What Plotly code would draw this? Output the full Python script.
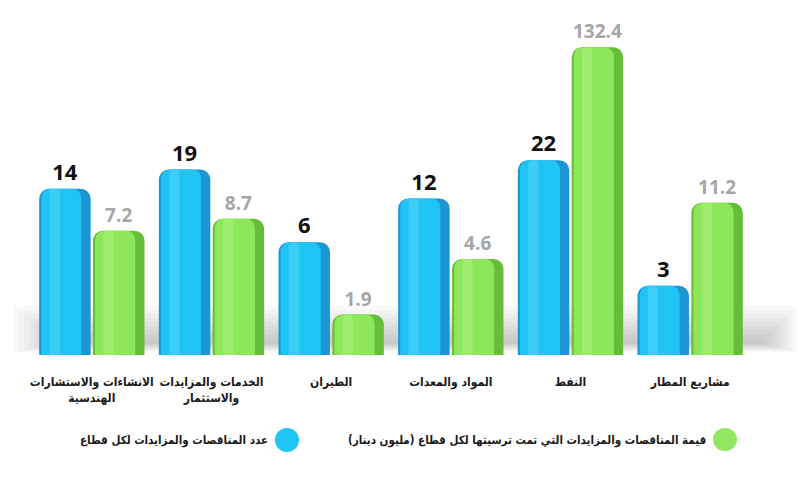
import plotly.graph_objects as go

categories = [
    "الانشاءات والاستشارات<br>الهندسية",
    "الخدمات والمزايدات<br>والاستثمار",
    "الطيران",
    "المواد والمعدات",
    "النفط",
    "مشاريع المطار",
]
count_values = [14, 19, 6, 12, 22, 3]
value_millions = [7.2, 8.7, 1.9, 4.6, 132.4, 11.2]
count_name = "عدد المناقصات والمزايدات لكل قطاع"
value_name = "قيمة المناقصات والمزايدات التي تمت ترسيتها لكل قطاع (مليون دينار)"

W, H = 800, 498
L, R, T, B = 32, 50, 20, 143
PW, PH = W - L - R, H - T - B


def px(x):
    return (x - L) / PW


def py(y):
    return (H - B - y) / PH


xs = list(range(len(categories)))
BW = 0.43
blue_off, green_off = -0.44, 0.01

fig = go.Figure()


def cylinder(vals, off, colors, text, tfont, name):
    base, mid, hi = colors
    fig.add_trace(go.Bar(
        x=xs, y=vals, offset=off, width=BW, name=name,
        marker=dict(color=base, line=dict(width=0), cornerradius=10),
        text=text, textposition="outside", textfont=tfont, cliponaxis=False,
        hoverinfo="y", showlegend=False))
    fig.add_trace(go.Bar(
        x=xs, y=vals, offset=off + 0.04 * BW, width=0.78 * BW,
        marker=dict(color=mid, line=dict(width=0), cornerradius=9),
        hoverinfo="skip", showlegend=False))
    fig.add_trace(go.Bar(
        x=xs, y=vals, offset=off + 0.2 * BW, width=0.2 * BW,
        marker=dict(color=hi, line=dict(width=0), cornerradius=4, opacity=0.6),
        hoverinfo="skip", showlegend=False))


cylinder(count_values, blue_off, ("#1a96d4", "#1fc4f4", "#4fd6fb"),
         [str(v) for v in count_values],
         dict(family="Open Sans", size=22, color="#111111", weight="bold"),
         count_name)
cylinder(value_millions, green_off, ("#66bd38", "#8ee75b", "#a8f27c"),
         [f"{v:g}" for v in value_millions],
         dict(family="Open Sans", size=19, color="#a6a6a6", weight="bold"),
         value_name)

shapes = []
# soft grey shadow behind the bars
for i in range(10):
    shapes.append(dict(type="rect", xref="paper", yref="paper", layer="below",
                       x0=px(14 + 5 * i), x1=px(797 - 4 * i),
                       y0=py(352 - i), y1=py(306 + 4 * i),
                       fillcolor="#000000", opacity=0.025, line=dict(width=0)))

# legend markers
shapes.append(dict(type="circle", xref="paper", yref="paper",
                   x0=px(713), x1=px(737), y0=py(451), y1=py(428),
                   fillcolor="#8fe85f", line=dict(width=0)))
shapes.append(dict(type="circle", xref="paper", yref="paper",
                   x0=px(275), x1=px(299), y0=py(452), y1=py(428),
                   fillcolor="#1fc6f5", line=dict(width=0)))

lfont = dict(family="DejaVu Sans Condensed, DejaVu Sans", size=11.5, color="#1a1a1a", weight="bold")
annotations = [
    dict(text=value_name, xref="paper", yref="paper", x=px(708), y=py(440),
         xanchor="right", yanchor="middle", showarrow=False, font=lfont),
    dict(text=count_name, xref="paper", yref="paper", x=px(270), y=py(440),
         xanchor="right", yanchor="middle", showarrow=False, font=lfont),
]

fig.update_layout(
    width=W, height=H,
    margin=dict(l=L, r=R, t=T, b=B),
    barmode="overlay",
    plot_bgcolor="white", paper_bgcolor="white",
    shapes=shapes, annotations=annotations,
    showlegend=False,
    xaxis=dict(range=[-0.5, 5.5], tickmode="array", tickvals=xs, ticktext=categories,
               tickangle=0,
               showgrid=False, zeroline=False, showline=False, ticks="",
               ticklabelstandoff=18,
               tickfont=dict(family="DejaVu Sans Condensed, DejaVu Sans", size=12,
                             color="#1a1a1a", weight="bold")),
    yaxis=dict(type="log", range=[0, 2.31], visible=False, showgrid=False),
)

fig.write_html("out.html")
